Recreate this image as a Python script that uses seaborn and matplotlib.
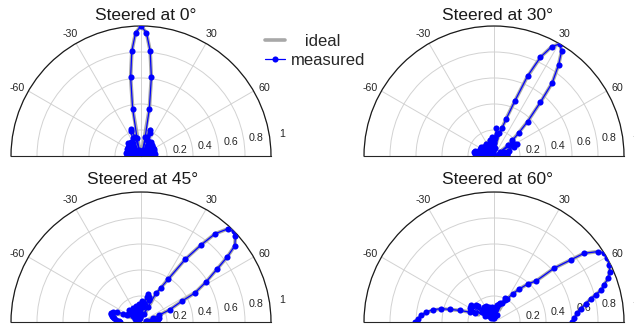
import numpy as np
import pandas as pd
import matplotlib
matplotlib.use("Agg")
import matplotlib.pyplot as plt
import seaborn as sns

# steering angles of the four panels
steer = [0, 30, 45, 60]

# --- steered at 0 deg ---
ang0 = [-90, -87.5, -85, -82.5, -80, -77.5, -75, -72.5, -70, -67.5,
        -65, -62.5, -60, -57.5, -55, -52.5, -50, -47.5, -45, -42.5,
        -40, -37.5, -35, -32.5, -30, -27.5, -25, -22.5, -20, -17.5,
        -15, -12.5, -10, -7.5, -5, -2.5, 0, 2.5, 5, 7.5,
        10, 12.5, 15, 17.5, 20, 22.5, 25, 27.5, 30, 32.5,
        35, 37.5, 40, 42.5, 45, 47.5, 50, 52.5, 55, 57.5,
        60, 62.5, 65, 67.5, 70, 72.5, 75, 77.5, 80, 82.5,
        85, 87.5, 90]
meas0 = [.10, .04, .11, .03, .12, .06, .11, .02, .10, .05,
         .12, .03, .11, .06, .12, .02, .09, .12, .14, .05,
         .03, .10, .13, .12, .04, .03, .15, .21, .22, .15,
         .05, .14, .37, .61, .81, .95, 1.0, .95, .81, .61,
         .37, .15, .05, .15, .21, .19, .13, .03, .09, .12,
         .13, .10, .03, .10, .12, .11, .04, .10, .11, .03,
         .09, .11, .05, .09, .11, .03, .10, .09, .04, .11,
         .10, .04, .10]
ideal0 = [.11, .11, .11, .11, .10, .10, .09, .08, .07, .05,
          .02, .01, .02, .04, .06, .08, .09, .09, .07, .03,
          .04, .10, .13, .13, .10, .04, .08, .18, .22, .19,
          .10, .04, .37, .61, .81, .95, 1.0, .95, .81, .61,
          .37, .04, .10, .19, .22, .18, .08, .04, .10, .13,
          .13, .10, .04, .03, .07, .09, .09, .08, .06, .04,
          .02, .01, .02, .05, .07, .08, .09, .10, .10, .11,
          .11, .11, .11]

# --- steered at 30 deg ---
ang1 = [-90, -87.5, -85, -82.5, -80, -77.5, -75, -72.5, -70, -67.5,
        -65, -62.5, -60, -57.5, -55, -52.5, -50, -47.5, -45, -42.5,
        -40, -37.5, -35, -32.5, -30, -27.5, -25, -22.5, -20, -17.5,
        -15, -12.5, -10, -7.5, -5, -2.5, 0, 2.5, 5, 7.5,
        10, 12.5, 15.8, 18.2, 20.7, 22.8, 25.2, 27.8, 30.4, 32.8,
        35.3, 38.5, 40.8, 44.3, 47, 49.7, 52.5, 55, 57.5, 60,
        62.5, 65, 67.5, 70, 72.5, 75, 77.5, 80, 82.5, 85,
        87.5, 90]
meas1 = [.12, .05, .15, .08, .16, .06, .15, .04, .12, .07,
         .12, .03, .11, .06, .12, .02, .11, .07, .10, .03,
         .10, .06, .11, .02, .10, .07, .10, .03, .10, .06,
         .13, .04, .09, .05, .15, .06, .10, .14, .22, .17,
         .06, .18, .22, .30, .45, .67, .84, .95, 1.0, .96,
         .86, .72, .545, .37, .26, .186, .14, .06, .16, .19,
         .20, .17, .08, .12, .04, .09, .10, .03, .10, .05,
         .10, .06]
ideal1 = [.10, .10, .09, .08, .06, .04, .05, .08, .10, .09,
          .06, .03, .06, .10, .11, .09, .05, .04, .08, .11,
          .10, .06, .05, .10, .12, .09, .04, .08, .12, .10,
          .05, .07, .12, .10, .05, .10, .14, .15, .12, .05,
          .10, .17, .22, .31, .45, .66, .84, .95, 1.0, .96,
          .86, .72, .55, .37, .25, .18, .12, .06, .10, .17,
          .20, .17, .10, .04, .06, .08, .09, .10, .10, .10,
          .10, .10]

# --- steered at 45 deg ---
ang2 = [-90, -87.5, -85, -82.5, -80, -77.5, -75, -72.5, -70, -67.5,
        -65, -62.5, -60, -57.5, -55, -52.5, -50, -47.5, -45, -42.5,
        -40, -37.5, -35, -32.5, -30, -27.5, -25, -22.5, -20, -17.5,
        -15, -12.5, -10, -7.5, -5, -2.5, 0, 2.5, 5, 7.5,
        10, 12.5, 15, 17.5, 20, 22.5, 25, 27.5, 30, 32.4,
        35.2, 37.9, 40, 43, 45.6, 47.8, 50.9, 53, 55.2, 58.3,
        61.7, 63, 66.8, 69.6, 72.5, 75, 77.5, 80, 82.5, 85,
        87.5, 90]
meas2 = [.16, .17, .19, .21, .22, .23, .24, .24, .23, .20,
         .15, .12, .05, .12, .04, .08, .10, .03, .13, .11,
         .04, .12, .03, .10, .12, .05, .08, .10, .03, .13,
         .12, .04, .11, .14, .05, .10, .13, .16, .06, .12,
         .15, .20, .22, .20, .18, .07, .13, .25, .30, .39,
         .59, .75, .886, .98, 1.0, .98, .93, .83, .71, .59,
         .47, .35, .24, .145, .10, .04, .14, .13, .05, .12,
         .04, .10]
ideal2 = [.15, .17, .19, .21, .22, .22, .22, .20, .17, .13,
          .08, .05, .08, .11, .12, .10, .06, .05, .09, .12,
          .11, .07, .05, .09, .12, .10, .05, .07, .12, .12,
          .07, .06, .11, .13, .09, .06, .11, .15, .12, .08,
          .12, .18, .21, .20, .16, .10, .06, .22, .30, .39,
          .59, .75, .886, .98, 1.0, .98, .93, .83, .71, .59,
          .47, .35, .24, .145, .08, .06, .10, .13, .13, .12,
          .12, .13]

# --- steered at 60 deg ---
ang3 = [-90, -88, -84.9, -81.7, -78.6, -75.8, -74.1, -71.3, -67.8, -65,
        -62.5, -60, -57.5, -55, -52.5, -50, -47.5, -45, -42.5, -40,
        -37.5, -35, -32.5, -30, -27.5, -25, -22.5, -20, -17.5, -15,
        -12.5, -10, -7.5, -5, -2.5, 0, 2.5, 5, 7.5, 10,
        12.5, 15, 17.5, 20, 22.5, 25, 27.5, 29.8, 33.5, 37.5,
        41.5, 45.8, 48.1, 51, 52.6, 55.8, 57.8, 60.7, 63.7, 66.6,
        69.1, 71.2, 73.5, 74.9, 76.4, 78.7, 81.3, 83.9, 87, 90]
meas3 = [.61, .587, .563, .527, .48, .418, .355, .278, .20, .16,
         .20, .21, .08, .22, .22, .12, .19, .17, .06, .13,
         .10, .04, .14, .13, .05, .14, .11, .03, .12, .10,
         .04, .10, .12, .03, .09, .08, .10, .04, .12, .13,
         .05, .14, .15, .06, .16, .20, .19, .207, .26, .32,
         .39, .454, .618, .758, .87, .963, 1.0, 1.0, .99, .97,
         .94, .895, .857, .81, .766, .72, .675, .645, .62, .60]
ideal3 = [.60, .59, .56, .52, .47, .41, .35, .28, .20, .13,
          .17, .20, .21, .21, .20, .17, .13, .09, .05, .06,
          .09, .11, .10, .07, .05, .08, .10, .09, .05, .06,
          .09, .08, .04, .06, .08, .05, .04, .08, .09, .06,
          .05, .10, .14, .14, .10, .14, .19, .21, .26, .32,
          .39, .454, .618, .758, .87, .963, 1.0, 1.0, .99, .97,
          .94, .895, .857, .81, .766, .72, .675, .645, .62, .60]

angles = [ang0, ang1, ang2, ang3]
measured = [meas0, meas1, meas2, meas3]
ideal = [ideal0, ideal1, ideal2, ideal3]

rticks = [0.2, 0.4, 0.6, 0.8, 1]
rlabels = ['0.2', '0.4', '0.6', '0.8', '1']
tticks = [-90, -60, -30, 0, 30, 60, 90]
tlabels = ['-60', '-30', '30', '60']
tlabel_ang = [-61, -30, 30, 61]

sns.set_style("white")
plt.rcParams['font.family'] = ['Liberation Sans', 'DejaVu Sans']

W, H = 634, 330
R = 130
centers = [(141, 156), (494, 156), (141, 322), (494, 322)]
title_pos = [(146, 15), (498, 15), (143, 180), (498, 180)]

fig = plt.figure(figsize=(W / 100, H / 100), dpi=100)

for i in range(4):
    cx, cy = centers[i]
    # matplotlib keeps the half disc inside a square box, centred vertically
    ax = fig.add_axes([(cx - R) / W, (H - cy - R / 2) / H, 2 * R / W, 2 * R / H],
                      projection='polar')
    ax.set_theta_zero_location('N')
    ax.set_theta_direction(-1)
    ax.set_thetamin(-90)
    ax.set_thetamax(90)

    df = pd.DataFrame({'theta': np.deg2rad(angles[i]),
                       'ideal': ideal[i], 'measured': measured[i]})
    sns.lineplot(data=df, x='theta', y='ideal', ax=ax, sort=False,
                 estimator=None, color='#a8a8a8', linewidth=2.6,
                 label='   ideal', legend=False, zorder=3)
    sns.lineplot(data=df, x='theta', y='measured', ax=ax, sort=False,
                 estimator=None, color='#0000ff', linewidth=0.9,
                 marker='o', markersize=4.4, markeredgewidth=0,
                 label='measured', legend=False, zorder=4)

    ax.set_ylim(0, 1)
    ax.set_yticks(rticks)
    ax.set_yticklabels([])
    ax.set_xticks(np.deg2rad(tticks))
    ax.set_xticklabels([])
    ax.set_xlabel('')
    ax.set_ylabel('')
    ax.grid(True, color='#d2d2d2', linewidth=0.7)
    ax.spines['polar'].set_color('#1a1a1a')
    ax.spines['polar'].set_linewidth(0.9)
    ax.spines['start'].set_visible(False)
    ax.spines['end'].set_visible(False)

    for a, s in zip(tlabel_ang, tlabels):
        ax.text(np.deg2rad(a), 1.085, s, fontsize=7.7, color='#262626',
                ha='center', va='center')
    for v, s in zip(rticks, rlabels):
        ax.text(np.deg2rad(81), v + 0.1, s, fontsize=7.7, color='#262626',
                ha='center', va='center')

    tx, ty = title_pos[i]
    fig.text(tx / W, 1 - ty / H, 'Steered at %d°' % steer[i], fontsize=12.5,
             ha='center', va='center', color='#1a1a1a')

    if i == 0:
        handles, labels = ax.get_legend_handles_labels()

fig.legend(handles, labels, loc='upper left', bbox_to_anchor=(258 / W, 1 - 27 / H),
           frameon=False, fontsize=12, handlelength=1.2, handletextpad=0.4,
           labelspacing=0.25, borderaxespad=0)

fig.savefig('out.png', dpi=100)
